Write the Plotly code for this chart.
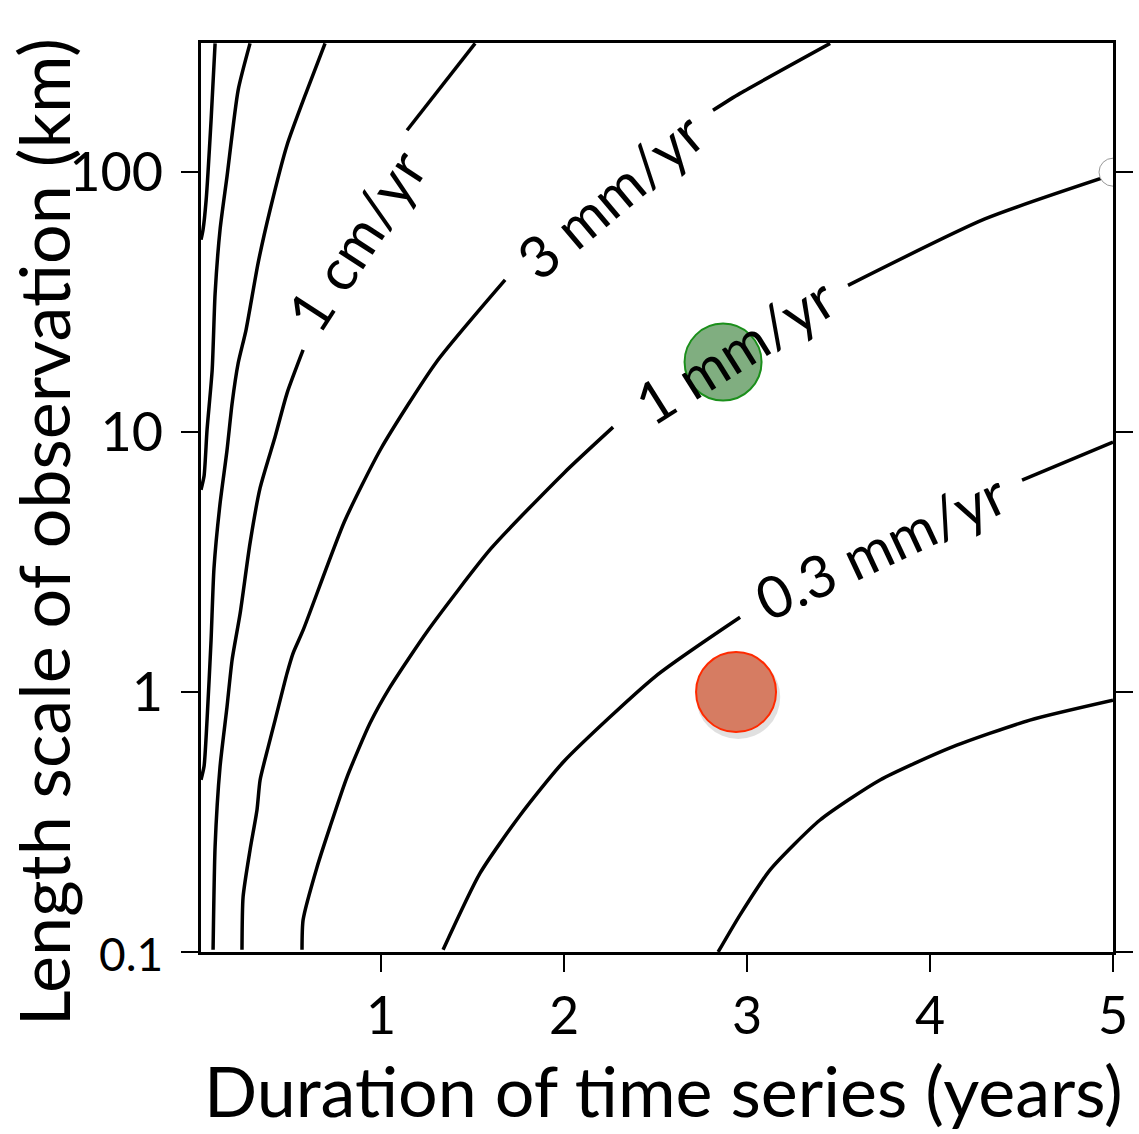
import numpy as np
import plotly.graph_objects as go

# ---- data ----
# contour lines: duration T (years) vs length scale L (km); None = gap for a label
c30cm_T = [0.093, 0.071, 0.044, 0.027, 0.016]
c30cm_L = [313, 158, 78, 60, 55]

c10cm_T = [0.284, 0.219, 0.158, 0.120, 0.093, 0.077, 0.049, 0.033, 0.016]
c10cm_L = [313, 207, 96, 60, 34, 17.3, 10.2, 6.8, 6.0]

c3cm_T = [0.694, 0.596, 0.486, 0.393, 0.328, 0.262, 0.219, 0.186, 0.158, 0.120, 0.087, 0.071, 0.049, 0.033, 0.016]
c3cm_L = [313, 207, 127, 71.4, 44.7, 24.7, 18.4, 12.9, 8.5, 5.3, 3.0, 1.58, 0.78, 0.52, 0.46]

c1cm_T = [1.514, 1.142, None, 0.574, 0.486, 0.421, 0.339, 0.284, 0.230, 0.186, 0.158, 0.120, 0.093, 0.082]
c1cm_L = [313, 145, None, 20.7, 14.1, 9.6, 6.1, 3.74, 2.01, 1.33, 0.875, 0.515, 0.254, 0.102]

c3mm_T = [3.454, 2.962, 2.814, None, 1.678, 1.3, 1.0, 0.8, 0.574, 0.519, 0.486, 0.421, 0.383, 0.339, 0.322, 0.284, 0.246, 0.240]
c3mm_L = [313, 201, 173, None, 38.5, 18.5, 8.65, 4.53, 1.73, 1.41, 1.18, 0.78, 0.614, 0.459, 0.352, 0.247, 0.163, 0.102]

c1mm_T = [0.568, 0.574, 0.650, 0.721, 0.814, 0.940, 1.049, 1.257, 1.6, 2.0, 2.268, None, 3.552, 4.3, 5.0]
c1mm_L = [0.102, 0.133, 0.212, 0.303, 0.471, 0.76, 1.045, 1.73, 3.56, 6.97, 10.45, None, 36.7, 66.1, 98]

c03mm_T = [1.339, 1.541, 1.76, 2.0, 2.5, 2.962, None, 4.503, 5.0]
c03mm_L = [0.102, 0.201, 0.336, 0.542, 1.15, 1.94, None, 6.54, 9.16]

c01mm_T = [2.842, 2.962, 3.126, 3.399, 3.727, 4.109, 4.546, 5.0]
c01mm_L = [0.1, 0.139, 0.207, 0.322, 0.459, 0.61, 0.78, 0.93]

# contour labels
label_text = ["1 cm/yr", "3 mm/yr", "1 mm/yr", "0.3 mm/yr"]
label_T = [0.858, 2.246, 2.934, 3.727]
label_L = [54.7, 81.7, 20.7, 3.67]
label_angle = [-57, -40, -32, -25]

# observation points
pt_T = [2.869, 2.94]
pt_L = [18.6, 1.0]
edge_T = [5.0]
edge_L = [100]

x_ticks = [1, 2, 3, 4, 5]
y_ticks = [0.1, 1, 10, 100]
y_ticktext = ["<span style='font-size:46px'>0.1</span>", "1", "10", "100"]

FONT = "Lato"

fig = go.Figure()
for T, L in [(c30cm_T, c30cm_L), (c10cm_T, c10cm_L), (c3cm_T, c3cm_L), (c1cm_T, c1cm_L),
             (c3mm_T, c3mm_L), (c1mm_T, c1mm_L), (c03mm_T, c03mm_L), (c01mm_T, c01mm_L)]:
    fig.add_trace(go.Scatter(x=T, y=L, mode="lines", connectgaps=False,
                             line=dict(color="black", width=3.5, shape="spline", smoothing=0.6),
                             showlegend=False, hoverinfo="skip"))

# shadow for red point
fig.add_trace(go.Scatter(x=[pt_T[1] + 0.012], y=[pt_L[1] * 10 ** (-5 / 260)], mode="markers",
                         marker=dict(size=84, color="rgba(0,0,0,0.12)", line=dict(width=0)),
                         showlegend=False, hoverinfo="skip"))
fig.add_trace(go.Scatter(x=[pt_T[0]], y=[pt_L[0]], mode="markers",
                         marker=dict(size=77, color="rgba(60,130,60,0.65)",
                                     line=dict(color="#1b8f1b", width=2)),
                         showlegend=False, hoverinfo="skip"))
fig.add_trace(go.Scatter(x=[pt_T[1]], y=[pt_L[1]], mode="markers",
                         marker=dict(size=80, color="#d67c62",
                                     line=dict(color="#ff2a00", width=2)),
                         showlegend=False, hoverinfo="skip"))
fig.add_trace(go.Scatter(x=edge_T, y=edge_L, mode="markers",
                         marker=dict(size=28, color="white", line=dict(color="#999999", width=1)),
                         showlegend=False, hoverinfo="skip"))

for t, xv, yv, a in zip(label_text, label_T, label_L, label_angle):
    fig.add_annotation(x=xv, y=np.log10(yv), xref="x", yref="y", text=t, textangle=a,
                       showarrow=False,
                       font=dict(family=FONT, size=58, color="black"))

# axis titles
fig.add_annotation(x=-0.173, y=0.462, xref="paper", yref="paper",
                   text="Length scale of observation (km)", textangle=-90, showarrow=False,
                   xanchor="center", yanchor="middle",
                   font=dict(family=FONT, size=70, color="black"))
fig.add_annotation(x=0.507, y=-0.152, xref="paper", yref="paper",
                   text="Duration of time series (years)", showarrow=False,
                   xanchor="center", yanchor="middle",
                   font=dict(family=FONT, size=70, color="black"))

fig.update_layout(
    width=1139, height=1134,
    margin=dict(l=201, r=26, t=43, b=182, autoexpand=False),
    paper_bgcolor="white", plot_bgcolor="white",
    font=dict(family=FONT, color="black"),
    xaxis=dict(range=[0.016, 5.0], tickvals=x_ticks, ticks="outside", ticklen=17, tickwidth=2,
               tickcolor="black", showline=True, linewidth=3, linecolor="black", mirror=True,
               showgrid=False, zeroline=False, tickfont=dict(family=FONT, size=52),
               ticklabelstandoff=0, automargin=False),
    yaxis=dict(type="log", range=[-1, 2.497], tickvals=y_ticks, ticktext=y_ticktext,
               ticks="outside", ticklen=17, tickwidth=2, tickcolor="black",
               showline=True, linewidth=3, linecolor="black", mirror="ticks",
               showgrid=False, zeroline=False, tickfont=dict(family=FONT, size=54),
               ticklabelstandoff=7, automargin=False),
)

fig.write_html("out.html", config={"displayModeBar": False},
               post_script="document.body.style.margin='0px';")
